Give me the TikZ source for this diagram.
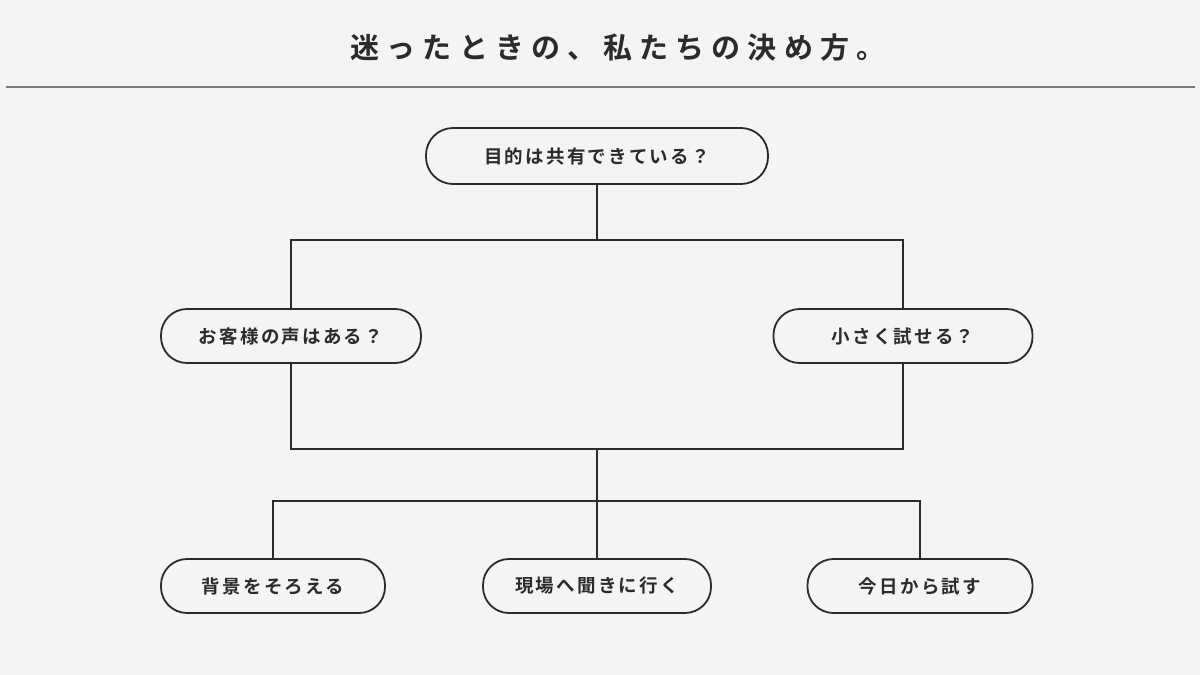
\documentclass[tikz,border=0pt]{standalone}
\usepackage{fontspec}
\newfontfamily\jptitle[LetterSpace=24.5]{Noto Sans CJK JP Bold}
\newfontfamily\jpnode[LetterSpace=12]{Noto Sans CJK JP Bold}
\definecolor{bg}{HTML}{F4F4F4}
\definecolor{ink}{HTML}{2B2B2B}
\definecolor{rule}{HTML}{7A7A7A}
\tikzset{
  pill/.style={draw=ink, line width=1.8pt, fill=bg, rounded corners=26pt,
    minimum height=54pt, inner sep=0pt, text=ink,
    font=\jpnode\fontsize{18.5pt}{22pt}\selectfont},
  link/.style={draw=ink, line width=1.8pt}
}
\begin{document}
\begin{tikzpicture}[x=1pt,y=-1pt]
\fill[bg] (0,0) rectangle (1200,675);
\useasboundingbox (0,0) rectangle (1200,675);
\node[text=ink, font=\jptitle\fontsize{29pt}{33pt}\selectfont] (title) at (618,47.5) {迷ったときの、私たちの決め方。};
\coordinate (rl) at (6,87);
\coordinate (rr) at (1195,87);
\draw[rule, line width=1.4pt] (rl) -- (rr);

\node[pill, minimum width=342pt, minimum height=56pt, rounded corners=27pt] (top) at (597,156) {目的は共有できている？};
\node[pill, minimum width=260pt] (left) at (291,336) {お客様の声はある？};
\node[pill, minimum width=259pt] (right) at (903,336) {小さく試せる？};
\node[pill, minimum width=224pt] (bl) at (273,586) {背景をそろえる};
\node[pill, minimum width=228pt] (bm) at (597,586) {現場へ聞きに行く};
\node[pill, minimum width=225pt] (br) at (920,586) {今日から試す};

\coordinate (j1) at (597,240);
\coordinate (j2) at (597,449);
\coordinate (j3) at (597,501);

\draw[link] (top.south) -- (j1);
\draw[link] (left.north) |- (j1) -| (right.north);
\draw[link] (left.south) |- (j2) -| (right.south);
\draw[link] (j2) -- (j3);
\draw[link] (bl.north) |- (j3) -| (br.north);
\draw[link] (j3) -- (bm.north);
\end{tikzpicture}
\end{document}
